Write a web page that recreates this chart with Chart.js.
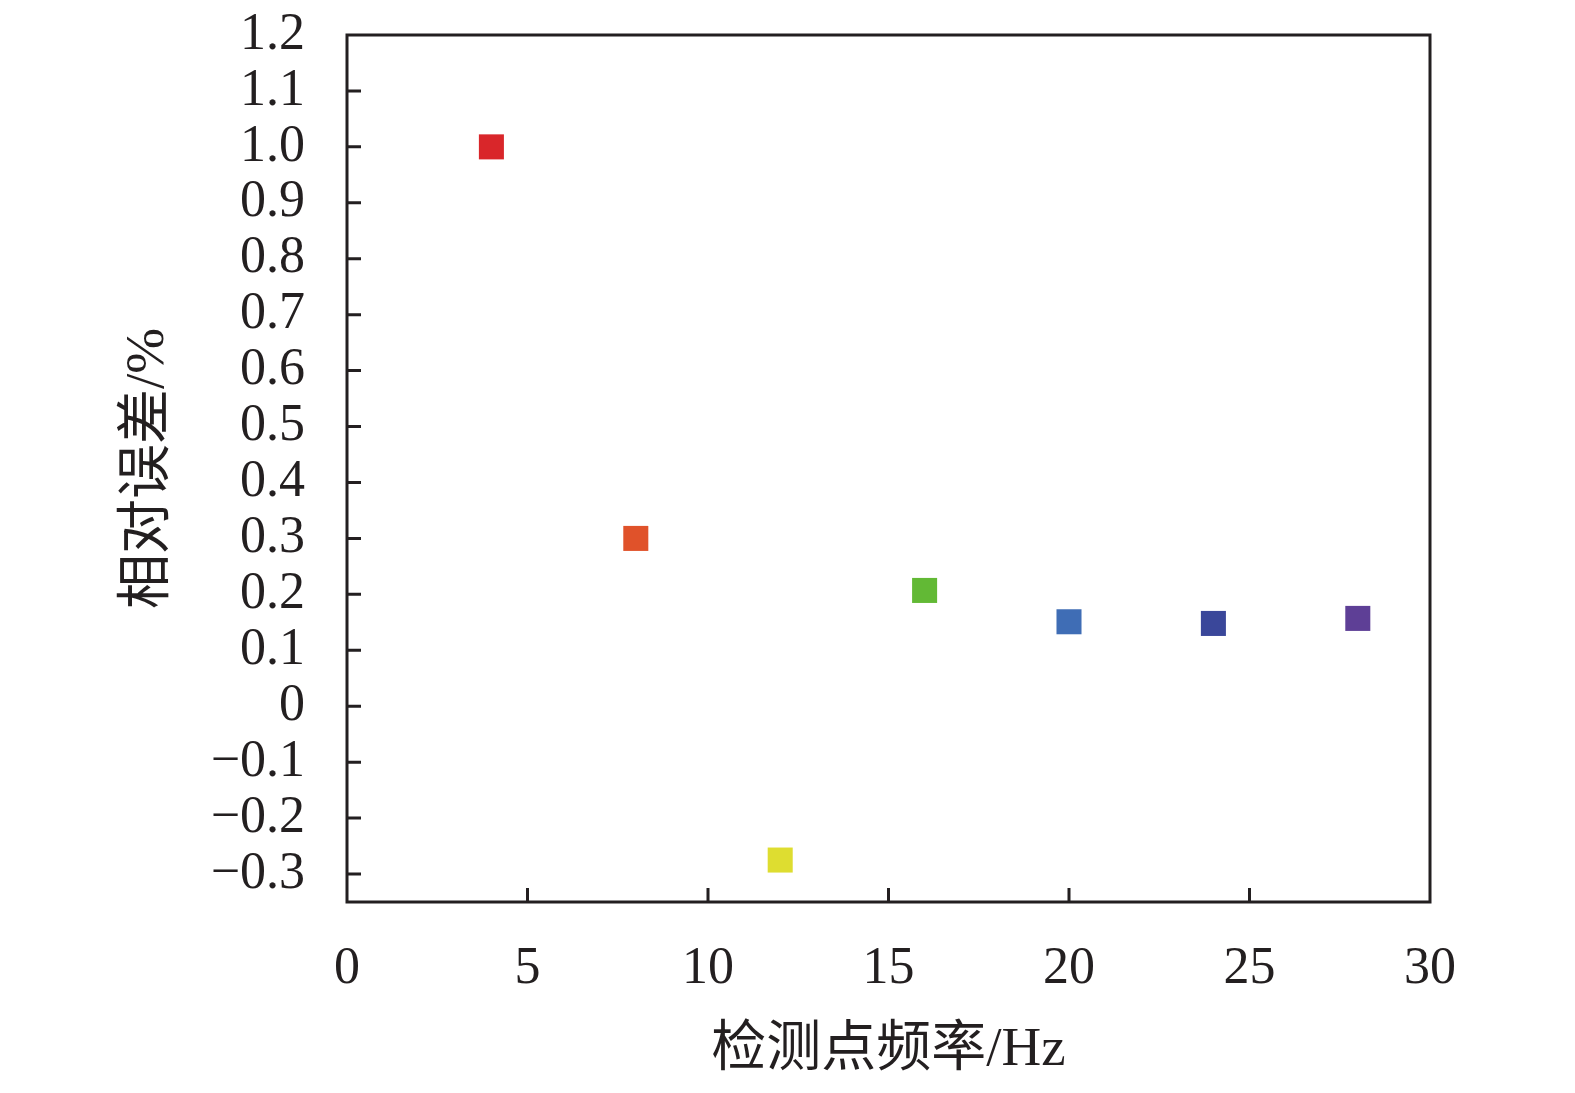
<!DOCTYPE html>
<html>
<head>
<meta charset="utf-8">
<script src="https://cdn.jsdelivr.net/npm/chart.js@4"></script>
<style>
    html, body { margin: 0; padding: 0; background: #fff; }
    #wrap { width: 1575px; height: 1093px; }
</style>
</head>
<body>
<div id="wrap"><canvas id="errChart" width="1575" height="1093"></canvas></div>
<script>
// Data
const freqs = [4, 8, 12, 16, 20, 24, 28];
const errors = [1.0, 0.30, -0.275, 0.207, 0.151, 0.148, 0.157];
const pointColors = ["#d9262a", "#e0522a", "#dedd30", "#62b935", "#3f6db5", "#3a479a", "#5e3f96"];

const xTicks = [0, 5, 10, 15, 20, 25, 30];
const yTicks = [-0.3, -0.2, -0.1, 0, 0.1, 0.2, 0.3, 0.4, 0.5, 0.6, 0.7, 0.8, 0.9, 1.0, 1.1, 1.2];
const yTickLabels = ["\u22120.3", "\u22120.2", "\u22120.1", "0", "0.1", "0.2", "0.3", "0.4", "0.5", "0.6", "0.7", "0.8", "0.9", "1.0", "1.1", "1.2"];

const ink = "#231f20";
const serif = "'Liberation Serif', 'Noto Sans CJK SC', serif";

// frame + inward tick marks
const framePlugin = {
    id: "frame",
    afterDraw(chart) {
        const { ctx, chartArea: a, scales } = chart;
        ctx.save();
        ctx.strokeStyle = ink;
        ctx.lineWidth = 3;
        ctx.strokeRect(a.left, a.top, a.right - a.left, a.bottom - a.top);
        ctx.beginPath();
        xTicks.forEach(v => {
            if (v === 0 || v === 30) return;
            const px = scales.x.getPixelForValue(v);
            ctx.moveTo(px, a.bottom);
            ctx.lineTo(px, a.bottom - 14);
        });
        yTicks.forEach(v => {
            if (v === 1.2) return;
            const py = scales.y.getPixelForValue(v);
            ctx.moveTo(a.left, py);
            ctx.lineTo(a.left + 14, py);
        });
        ctx.stroke();
        ctx.restore();
    }
};

const ctx = document.getElementById("errChart").getContext("2d");
new Chart(ctx, {
    type: "scatter",
    data: {
        datasets: [{
            data: freqs.map((f, i) => ({ x: f, y: errors[i] })),
            backgroundColor: pointColors,
            borderWidth: 0,
            pointStyle: "rect",
            pointRadius: 17.7,
            pointHoverRadius: 17.7
        }]
    },
    options: {
        responsive: false,
        animation: false,
        events: [],
        layout: { padding: { top: 35, right: 145, left: 0, bottom: 0 } },
        plugins: { legend: { display: false }, tooltip: { enabled: false } },
        scales: {
            x: {
                type: "linear",
                min: 0,
                max: 30,
                afterBuildTicks: s => { s.ticks = xTicks.map(v => ({ value: v })); },
                afterFit: s => { s.height = 191; s.paddingLeft = 0; s.paddingRight = 0; },
                grid: { display: false, drawTicks: false },
                border: { display: false },
                ticks: {
                    color: ink,
                    padding: 36,
                    maxRotation: 0,
                    autoSkip: false,
                    font: { family: serif, size: 52 }
                },
                title: {
                    display: true,
                    text: "检测点频率/Hz",
                    color: ink,
                    padding: { top: 0, bottom: 9 },
                    font: { family: serif, size: 55 }
                }
            },
            y: {
                type: "linear",
                min: -0.35,
                max: 1.2,
                afterBuildTicks: s => { s.ticks = yTicks.map(v => ({ value: v })); },
                afterFit: s => { s.width = 347; s.paddingTop = 0; s.paddingBottom = 0; },
                grid: { display: false, drawTicks: false },
                border: { display: false },
                ticks: {
                    color: ink,
                    padding: 42,
                    autoSkip: false,
                    font: { family: serif, size: 52 },
                    callback: (v) => {
                        const i = yTicks.findIndex(t => Math.abs(t - v) < 1e-6);
                        return i >= 0 ? yTickLabels[i] : "";
                    }
                },
                title: {
                    display: true,
                    text: "相对误差/%",
                    color: ink,
                    padding: { top: 116, bottom: 0 },
                    font: { family: serif, size: 55 }
                }
            }
        }
    },
    plugins: [framePlugin]
});
</script>
</body>
</html>
